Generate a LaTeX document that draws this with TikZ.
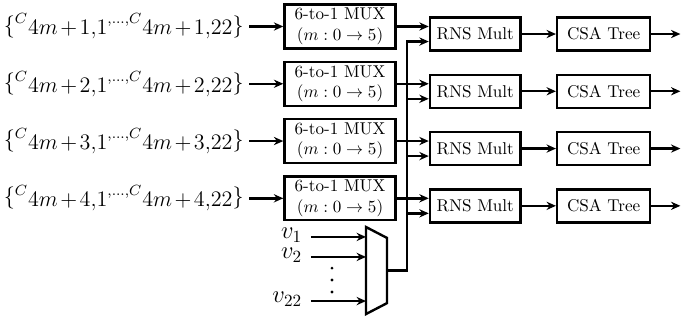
\documentclass[tikz,border=0pt]{standalone}
\usepackage{amsmath,amssymb,graphicx}
\usetikzlibrary{arrows.meta,positioning,calc}
\newcommand{\cidx}[2]{\lower1.5pt\hbox{$4m\mkern2mu{+}\mkern2mu#1{,}#2$}}
\newcommand{\cset}[1]{\scalebox{1.08}{$\{{}^{C}\cidx{#1}{1}{}^{,\ldots,C}\cidx{#1}{22}\}$}}
\tikzset{
  % Box styles
  muxbox/.style={rectangle, draw, line width=1.4pt, minimum width=65pt, minimum height=25.7pt, inner sep=1pt, align=center},
  multbox/.style={rectangle, draw, line width=1.4pt, minimum width=53pt, minimum height=19.3pt, inner sep=1pt},
  treebox/.style={multbox, minimum width=54.4pt},
  % Label styles
  coefflabel/.style={inner sep=3pt, font=\large},
  inlabel/.style={inner xsep=5pt, inner ysep=0pt, font=\Large},
  % Arrow styles
  arrow/.style={-{Stealth[length=5.5pt,width=4.8pt]}, line width=1.4pt},
  wire/.style={line width=1.4pt}
}

\begin{document}
\begin{tikzpicture}[node distance=6.4pt]
  \useasboundingbox (0,0) rectangle (407.7pt,-189pt);

  % coefficient multiplexers
  \node[muxbox] (m1) at (198.9pt,-15.5pt) {6-to-1 MUX\\$(m:0\to 5)$};
  \node[muxbox, below=of m1] (m2) {6-to-1 MUX\\$(m:0\to 5)$};
  \node[muxbox, below=of m2] (m3) {6-to-1 MUX\\$(m:0\to 5)$};
  \node[muxbox, below=of m3] (m4) {6-to-1 MUX\\$(m:0\to 5)$};

  % coefficient sets
  \node[coefflabel, left=20pt of m1] (c1) {\cset{1}};
  \node[coefflabel, left=20pt of m2] (c2) {\cset{2}};
  \node[coefflabel, left=20pt of m3] (c3) {\cset{3}};
  \node[coefflabel, left=20pt of m4] (c4) {\cset{4}};

  % multipliers and trees
  \node[multbox, right=18.7pt of m1, yshift=-4.4pt] (r1) {RNS Mult};
  \node[multbox, right=18.7pt of m2, yshift=-4.4pt] (r2) {RNS Mult};
  \node[multbox, right=18.7pt of m3, yshift=-4.4pt] (r3) {RNS Mult};
  \node[multbox, right=18.7pt of m4, yshift=-4.4pt] (r4) {RNS Mult};
  \node[treebox, right=20pt of r1] (t1) {CSA Tree};
  \node[treebox, right=20pt of r2] (t2) {CSA Tree};
  \node[treebox, right=20pt of r3] (t3) {CSA Tree};
  \node[treebox, right=20pt of r4] (t4) {CSA Tree};

  \coordinate[right=17pt of t1.east] (o1);
  \coordinate[right=17pt of t2.east] (o2);
  \coordinate[right=17pt of t3.east] (o3);
  \coordinate[right=17pt of t4.east] (o4);

  % lower inputs of the multipliers
  \coordinate (r1low) at ($(r1.west)+(0,-4.4pt)$);
  \coordinate (r2low) at ($(r2.west)+(0,-4.4pt)$);
  \coordinate (r3low) at ($(r3.west)+(0,-4.4pt)$);
  \coordinate (r4low) at ($(r4.west)+(0,-4.4pt)$);
  \coordinate[right=6.1pt of m4.east] (bus);

  % v selector
  \coordinate (s1) at (214.1pt,-132.8pt);
  \coordinate (s2) at (226.4pt,-139.2pt);
  \coordinate (s3) at (226.4pt,-177.3pt);
  \coordinate (s4) at (214.1pt,-183.7pt);
  \coordinate (sout) at (226.4pt,-158.2pt);
  \coordinate (i1) at (214.1pt,-138.6pt);
  \coordinate (i2) at (214.1pt,-150.3pt);
  \coordinate (i3) at (214.1pt,-176.1pt);
  \draw[wire] (s1) -- (s2) -- (s3) -- (s4) -- cycle;

  \node[inlabel, anchor=base east] (v1) at (181.9pt,-139.4pt) {$v_1$};
  \node[inlabel, anchor=base east] (v2) at (181.9pt,-151.1pt) {$v_2$};
  \node[inlabel, anchor=base east] (v22) at (181.9pt,-176.9pt) {$v_{22}$};
  \coordinate (dots) at (194.2pt,-156.8pt);
  \foreach \k in {0,1,2}
    \fill ($(dots)+(0,-7*\k pt)$) circle (0.9pt);

  \draw[arrow] (v1.east |- i1) -- (i1);
  \draw[arrow] (v2.east |- i2) -- (i2);
  \draw[arrow] (v22.east |- i3) -- (i3);

  % arrows
  \draw[arrow] (c1.east) -- (m1.west);
  \draw[arrow] (c2.east) -- (m2.west);
  \draw[arrow] (c3.east) -- (m3.west);
  \draw[arrow] (c4.east) -- (m4.west);

  \draw[arrow] (m1.east) -- (m1.east -| r1.west);
  \draw[arrow] (m2.east) -- (m2.east -| r2.west);
  \draw[arrow] (m3.east) -- (m3.east -| r3.west);
  \draw[arrow] (m4.east) -- (m4.east -| r4.west);

  \draw[arrow] (sout) -| (bus |- r1low) -- (r1low);
  \draw[arrow] (bus |- r2low) -- (r2low);
  \draw[arrow] (bus |- r3low) -- (r3low);
  \draw[arrow] (bus |- r4low) -- (r4low);

  \draw[arrow] (r1.east) -- (t1.west);
  \draw[arrow] (r2.east) -- (t2.west);
  \draw[arrow] (r3.east) -- (t3.west);
  \draw[arrow] (r4.east) -- (t4.west);

  \draw[arrow] (t1.east) -- (o1);
  \draw[arrow] (t2.east) -- (o2);
  \draw[arrow] (t3.east) -- (o3);
  \draw[arrow] (t4.east) -- (o4);
\end{tikzpicture}
\end{document}
